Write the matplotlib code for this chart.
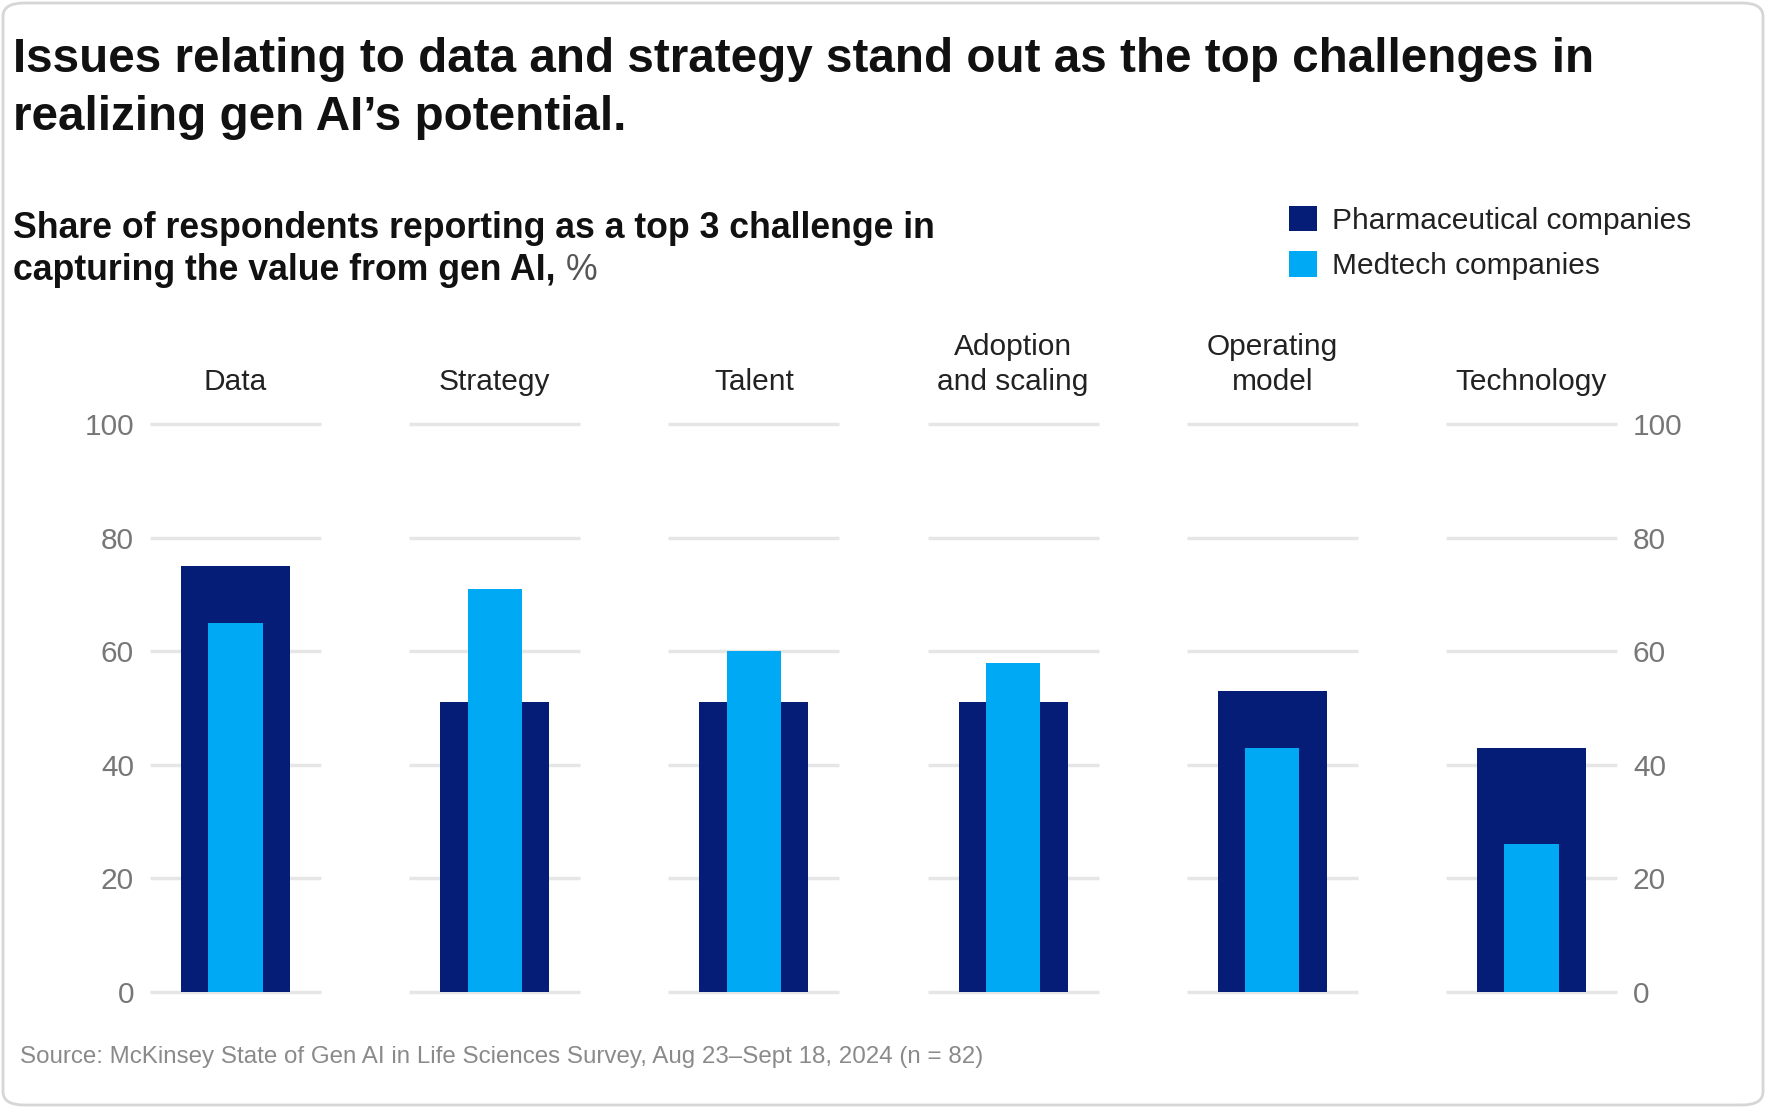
import matplotlib.pyplot as plt
from matplotlib.patches import FancyBboxPatch, Patch

# data
categories = ["Data", "Strategy", "Talent", "Adoption\nand scaling", "Operating\nmodel", "Technology"]
pharma = [75, 51, 51, 51, 53, 43]
medtech = [65, 71, 60, 58, 43, 26]
y_ticks = [0, 20, 40, 60, 80, 100]

DARK = "#061d77"
LIGHT = "#00a9f4"
GRID = "#e6e6e6"
W, H = 1768, 1110

plt.rcParams['font.family'] = ['Liberation Sans', 'DejaVu Sans']

fig = plt.figure(figsize=(W / 100, H / 100), dpi=100)
fig.patch.set_facecolor("white")

def fx(px):
    return px / W

def fy(py):
    return 1 - py / H

# card frame
card = FancyBboxPatch((fx(3), fy(1105)), fx(1760), 1102 / H,
                      boxstyle="round,pad=0,rounding_size=0.012",
                      transform=fig.transFigure, facecolor="white",
                      edgecolor="#d6d6d6", linewidth=2, zorder=-5)
fig.patches.append(card)

# titles
fig.text(fx(13), fy(59), "Issues relating to data and strategy stand out as the top challenges in",
         fontsize=34.3, fontweight="bold", color="#111111", va="center", ha="left")
fig.text(fx(13), fy(117), "realizing gen AI\u2019s potential.",
         fontsize=34.3, fontweight="bold", color="#111111", va="center", ha="left")
fig.text(fx(13), fy(229), "Share of respondents reporting as a top 3 challenge in",
         fontsize=25.7, fontweight="bold", color="#111111", va="center", ha="left")
sub2 = fig.text(fx(13), fy(271), "capturing the value from gen AI, ",
                fontsize=25.7, fontweight="bold", color="#111111", va="center", ha="left")
fig.canvas.draw()
bb = sub2.get_window_extent()
fig.text(bb.x1 / W, fy(271), "%", fontsize=25.7, color="#555555", va="center", ha="left")

# chart area
left_px, right_px = 150, 1617
bottom_px, top_px = 992, 424
ax = fig.add_axes([fx(left_px), fy(bottom_px), fx(right_px - left_px), (bottom_px - top_px) / H])
x = list(range(len(categories)))
half = 0.33

for yt in y_ticks:
    ax.hlines([yt] * len(x), [i - half for i in x], [i + half for i in x],
              color=GRID, linewidth=2.5, zorder=1, clip_on=False)

ax.bar(x, pharma, width=0.42, color=DARK, zorder=2, label="Pharmaceutical companies")
ax.bar(x, medtech, width=0.21, color=LIGHT, zorder=3, label="Medtech companies")

ax.set_xlim(-half, len(x) - 1 + half)
ax.set_ylim(0, 100)
ax.set_yticks(y_ticks)
ax.set_xticks([])
ax.tick_params(axis="y", left=False, right=False, labelleft=True, labelright=True,
               labelsize=21.5, labelcolor="#777777", pad=8)
for s in ax.spines.values():
    s.set_visible(False)
ax.patch.set_alpha(0)

# category labels above each group
span = bottom_px - top_px
for i, lab in enumerate(categories):
    lines = lab.split("\n")
    for k, line in enumerate(reversed(lines)):
        base = 390 - k * 35
        ax.text(i, (bottom_px - base) / span, line, transform=ax.get_xaxis_transform(),
                fontsize=21.5, color="#222222", ha="center", va="baseline", clip_on=False)

# legend
handles = [Patch(facecolor=DARK, edgecolor="none"), Patch(facecolor=LIGHT, edgecolor="none")]
fig.legend(handles, ["Pharmaceutical companies", "Medtech companies"],
           loc="upper left", bbox_to_anchor=(fx(1289), fy(206)), frameon=False,
           fontsize=21.5, handlelength=0.93, handleheight=0.93, handletextpad=0.5,
           labelspacing=0.55, borderpad=0, borderaxespad=0, labelcolor="#222222")

# source
fig.text(fx(20), fy(1057), "Source: McKinsey State of Gen AI in Life Sciences Survey, Aug 23\u2013Sept 18, 2024 (n = 82)",
         fontsize=17.4, color="#8a8a8a", va="center", ha="left")

fig.savefig("out.png", dpi=100)
